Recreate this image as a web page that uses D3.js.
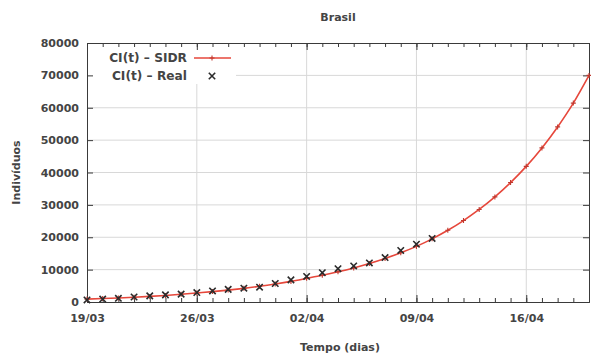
<!DOCTYPE html>
<html>
<head>
<meta charset="utf-8">
<script src="https://cdn.jsdelivr.net/npm/d3@7/dist/d3.min.js"></script>
<style>
  html, body { margin: 0; padding: 0; background: #fff; }
  svg { display: block; }
  text { font-family: "DejaVu Sans", sans-serif; font-weight: bold; fill: #444; }
</style>
</head>
<body>
<svg id="chart" width="591" height="355"></svg>
<script>
// Cumulative infected, Brazil, from 19/03 (day 0)
const realCases = [621, 904, 1128, 1546, 1891, 2201, 2433, 2915, 3417, 3904, 4256, 4579,
  5717, 6836, 7910, 9056, 10278, 11130, 12056, 13717, 15927, 17857, 19638];

// SIDR model output, one value per day from 19/03 to 20/04
const sidrCases = [900, 1060, 1250, 1470, 1730, 2030, 2390, 2800, 3210, 3680, 4220, 4840,
  5560, 6370, 7300, 8250, 9320, 10530, 11900, 13450, 15200, 17180, 19500, 22150, 25160,
  28580, 32470, 36890, 41900, 47600, 54080, 61430, 70000];

const xTickDays = [0, 7, 14, 21, 28];
const xTickLabels = ["19/03", "26/03", "02/04", "09/04", "16/04"];
const yTickValues = [0, 10000, 20000, 30000, 40000, 50000, 60000, 70000, 80000];

const titleText = "Brasil";
const xAxisTitle = "Tempo (dias)";
const yAxisTitle = "Indivíduos";
const legendLabels = ["CI(t) – SIDR", "CI(t) – Real"];

const svg = d3.select("#chart");
const m = { left: 87, right: 589, top: 43, bottom: 302 };
const red = "#e6473b";
const ink = "#3a3a3a";
const textFill = "#444";

const x = d3.scaleLinear().domain([0, 32]).range([m.left, m.right]);
const y = d3.scaleLinear().domain([0, 80000]).range([m.bottom, m.top]);

// grid
const grid = svg.append("g");
grid.selectAll("line.gx").data(xTickDays.slice(1)).join("line")
  .attr("x1", d => x(d)).attr("x2", d => x(d))
  .attr("y1", m.top).attr("y2", m.bottom)
  .attr("stroke", "#d8d8d8").attr("stroke-width", 1);
grid.selectAll("line.gy").data(yTickValues.slice(1, -1)).join("line")
  .attr("x1", m.left).attr("x2", m.right)
  .attr("y1", d => y(d)).attr("y2", d => y(d))
  .attr("stroke", "#d8d8d8").attr("stroke-width", 1);

// legend background hides the grid behind it
svg.append("rect").attr("x", m.left + 1).attr("y", m.top + 1)
  .attr("width", 148).attr("height", 40).attr("fill", "#fff");

const styleText = sel => sel.style("font-size", "11px").attr("fill", textFill)
  .attr("font-family", "DejaVu Sans, sans-serif").attr("font-weight", "bold");

// axes: bottom/top with daily minor ticks, left/right with major ticks
const days = d3.range(0, 33);
const bottomAxis = d3.axisBottom(x).tickValues(days).tickSize(-4).tickFormat("");
const topAxis = d3.axisTop(x).tickValues(days).tickSize(-4).tickFormat("");
svg.append("g").attr("transform", `translate(0,${m.bottom})`).call(bottomAxis)
  .call(g => g.selectAll("line,path").attr("stroke", ink));
svg.append("g").attr("transform", `translate(0,${m.top})`).call(topAxis)
  .call(g => g.selectAll("line,path").attr("stroke", ink));
// major x ticks
svg.append("g").attr("transform", `translate(0,${m.bottom})`)
  .call(d3.axisBottom(x).tickValues(xTickDays).tickSize(-7).tickFormat((d, i) => xTickLabels[i]))
  .call(g => g.select(".domain").remove())
  .call(g => g.selectAll("line").attr("stroke", ink))
  .call(g => g.selectAll("text").attr("dy", "1.5em").call(styleText));
svg.append("g").attr("transform", `translate(0,${m.top})`)
  .call(d3.axisTop(x).tickValues(xTickDays).tickSize(-7).tickFormat(""))
  .call(g => g.select(".domain").remove())
  .call(g => g.selectAll("line").attr("stroke", ink));

svg.append("g").attr("transform", `translate(${m.left},0)`)
  .call(d3.axisLeft(y).tickValues(yTickValues).tickSize(-6).tickPadding(8).tickFormat(d3.format("d")))
  .call(g => g.selectAll("line,path").attr("stroke", ink))
  .call(g => g.selectAll("text").call(styleText));
svg.append("g").attr("transform", `translate(${m.right},0)`)
  .call(d3.axisRight(y).tickValues(yTickValues).tickSize(-6).tickFormat(""))
  .call(g => g.selectAll("line,path").attr("stroke", ink));

// model curve
const line = d3.line().x((d, i) => x(i)).y(d => y(d)).curve(d3.curveMonotoneX);
svg.append("path").datum(sidrCases).attr("d", line)
  .attr("fill", "none").attr("stroke", red).attr("stroke-width", 1.6);

const plusPath = s => `M${-s},0H${s}M0,${-s}V${s}`;
const crossPath = s => `M${-s},${-s}L${s},${s}M${-s},${s}L${s},${-s}`;

svg.append("g").selectAll("path").data(sidrCases).join("path")
  .attr("transform", (d, i) => `translate(${x(i)},${y(d)})`)
  .attr("d", plusPath(2.5)).attr("stroke", "#c0392f").attr("stroke-width", 1.1).attr("fill", "none");

svg.append("g").selectAll("path").data(realCases).join("path")
  .attr("transform", (d, i) => `translate(${x(i)},${y(d)})`)
  .attr("d", crossPath(3.2)).attr("stroke", "#2b2b2b").attr("stroke-width", 1.6).attr("fill", "none");

// legend
const leg = svg.append("g");
leg.append("text").attr("x", 187).attr("y", 62).attr("text-anchor", "end")
  .style("font-size", "12.2px").text(legendLabels[0]);
leg.append("line").attr("x1", 194).attr("x2", 231).attr("y1", 58).attr("y2", 58)
  .attr("stroke", red).attr("stroke-width", 1.6);
leg.append("path").attr("transform", "translate(212,58)").attr("d", plusPath(2.5))
  .attr("stroke", "#c0392f").attr("stroke-width", 1.1);
leg.append("text").attr("x", 187).attr("y", 80).attr("text-anchor", "end")
  .style("font-size", "12.2px").text(legendLabels[1]);
leg.append("path").attr("transform", "translate(212,76)").attr("d", crossPath(3.2))
  .attr("stroke", "#2b2b2b").attr("stroke-width", 1.6);

// titles
svg.append("text").attr("x", 338).attr("y", 21).attr("text-anchor", "middle")
  .style("font-size", "11px").text(titleText);
svg.append("text").attr("x", 340).attr("y", 351).attr("text-anchor", "middle")
  .style("font-size", "11px").text(xAxisTitle);
svg.append("text").attr("transform", `translate(20,${(m.top + m.bottom) / 2}) rotate(-90)`)
  .attr("text-anchor", "middle").style("font-size", "11px").text(yAxisTitle);
</script>
</body>
</html>
